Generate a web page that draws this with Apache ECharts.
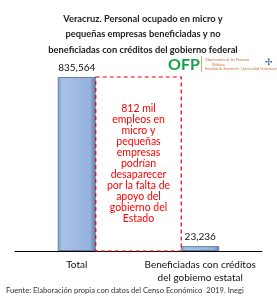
<!DOCTYPE html>
<html><head><meta charset="utf-8">
<script src="https://cdn.jsdelivr.net/npm/echarts@6/dist/echarts.min.js"></script>
<style>html,body{margin:0;padding:0;background:#fff}#c{width:277px;height:296px}</style>
</head><body><div id="c"></div>
<script>
const categories = ['Total', 'Beneficiadas con créditos\ndel gobiemo estatal'];
const values = [835564, 23236];
const titleText = 'Veracruz. Personal ocupado en micro y\npequeñas empresas beneficiadas y no\nbeneficiadas con créditos del gobierno federal';
const noteText = '812 mil\nempleos en\nmicro y\npequeñas\nempresas\npodrían\ndesaparecer\npor la falta de\napoyo del\ngobierno del\nEstado';
const sourceText = 'Fuente: Elaboración propia con datos del Censo Económico  2019. Inegi';
const FONT = 'Lato';

const chart = echarts.init(document.getElementById('c'), null, {renderer: 'canvas'});
const option = {
  animation: false,
  textStyle: {fontFamily: FONT},
  title: {
    text: titleText, left: 138, top: 6, textAlign: 'center',
    textStyle: {fontSize: 9.3, fontWeight: 'bold', color: '#222', lineHeight: 15.5, fontFamily: FONT}
  },
  grid: {left: 15, right: 15, top: 77, height: 174},
  xAxis: {
    type: 'category', data: categories,
    axisLine: {lineStyle: {color: '#000', width: 1}},
    axisTick: {show: false},
    axisLabel: {interval: 0, color: '#111', fontSize: 10, lineHeight: 13.5, margin: 7, fontFamily: FONT}
  },
  yAxis: {type: 'value', min: 0, max: values[0], show: false, splitLine: {show: false}},
  series: [{
    type: 'bar', data: values, barWidth: 38,
    itemStyle: {
      color: new echarts.graphic.LinearGradient(0, 0, 1, 0, [
        {offset: 0, color: '#7f9cc6'}, {offset: 0.12, color: '#a9c2e6'},
        {offset: 0.85, color: '#94b2dc'}, {offset: 1, color: '#5d7aa6'}]),
      borderColor: '#6481ad', borderWidth: 1
    },
    label: {show: true, position: 'top', distance: 4, fontSize: 10, color: '#111', fontFamily: FONT,
      formatter: p => p.value.toLocaleString('en-US')}
  }]
};
chart.setOption(option);

const p1 = chart.convertToPixel({gridIndex: 0}, [0, values[0]]);
const p2 = chart.convertToPixel({gridIndex: 0}, [1, 0]);
const half = 19;
const x0 = p1[0] + half, y0 = p1[1], x1 = p2[0] - half, y1 = p2[1];
chart.setOption({
  graphic: [
    {type: 'rect', shape: {x: x0, y: y0, width: x1 - x0, height: y1 - y0},
      style: {fill: null, stroke: '#e8000b', lineWidth: 1.2, lineDash: [4, 3]}, z: 10},
    {type: 'text', x: (x0 + x1) / 2, y: 103, style: {text: noteText, fill: '#ff0000', fontSize: 10.5,
      lineHeight: 11, align: 'center', fontFamily: FONT}, z: 10},
    {type: 'text', x: 168, y: 57, style: {text: 'OFP', fill: '#16a34a', fontSize: 16, fontWeight: 'bold', fontFamily: FONT}},
    {type: 'rect', shape: {x: 201, y: 56, width: 1, height: 16}, style: {fill: '#e8a36b'}},
    {type: 'text', x: 205, y: 58, style: {text: 'Observatorio de las Finanzas\n        Públicas\nFacultad de Economía · Universidad Veracruzana', fill: '#c0703a', fontSize: 3.5, lineHeight: 4.5, fontFamily: FONT}},
    {type: 'text', x: 265, y: 58, style: {text: '✢', fill: '#2f4f8f', fontSize: 9}},
    {type: 'text', x: 6, y: 287, style: {text: sourceText, fill: '#333', fontSize: 7.6, fontFamily: FONT}}
  ]
});
</script></body></html>
